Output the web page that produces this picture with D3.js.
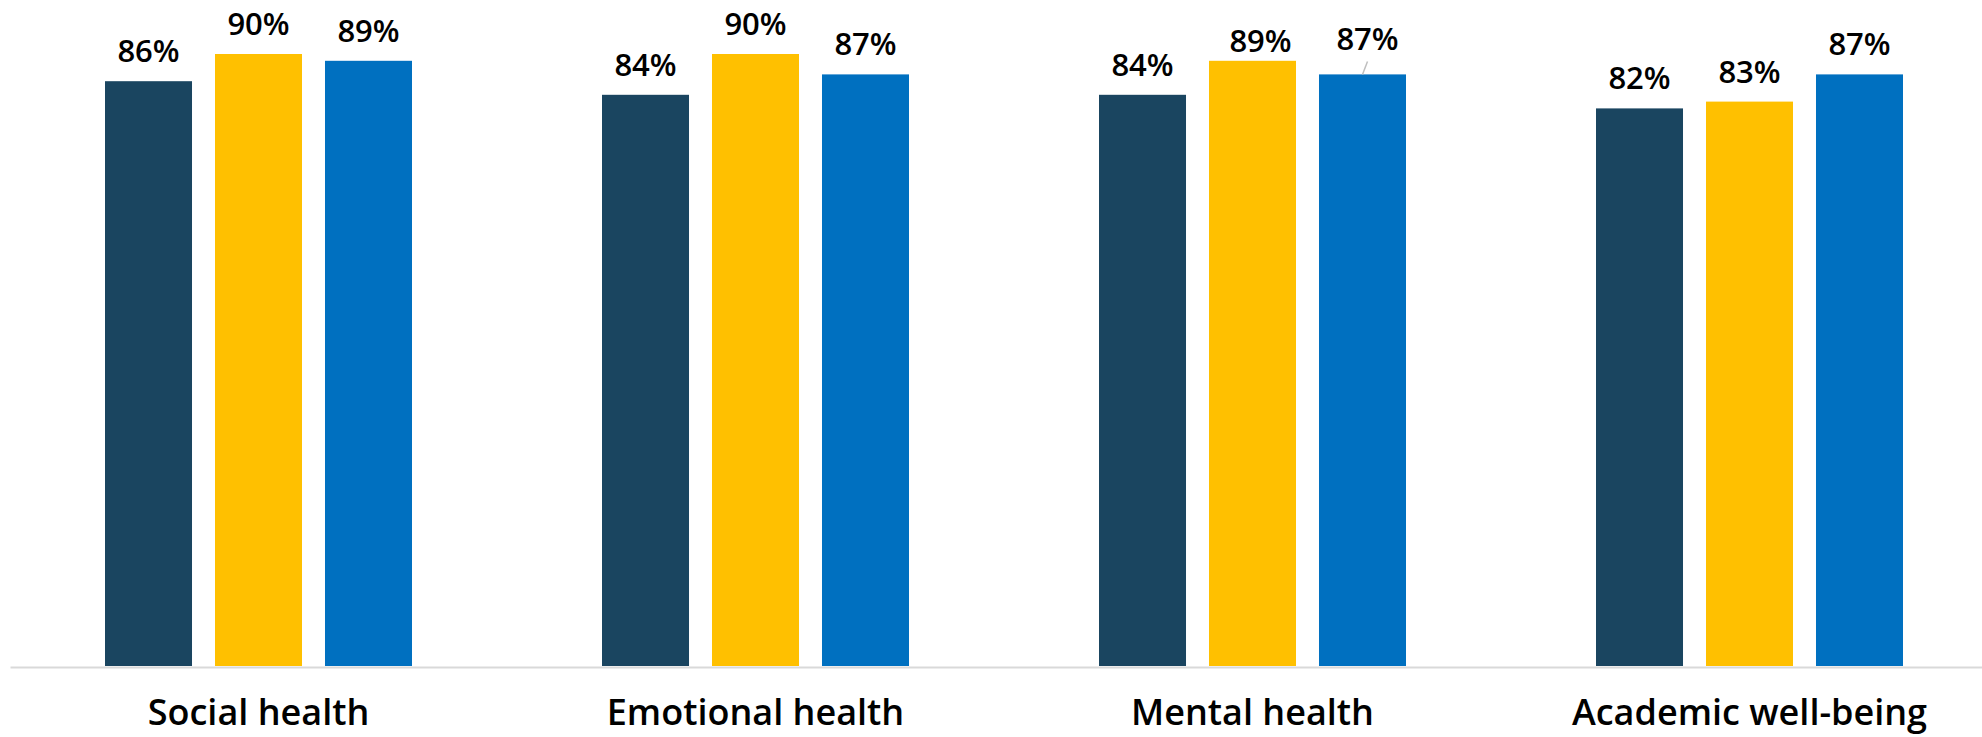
<!DOCTYPE html>
<html>
<head>
<meta charset="utf-8">
<script src="https://cdn.jsdelivr.net/npm/d3@7"></script>
<style>
html,body{margin:0;padding:0;background:#fff;}
svg{display:block;}
</style>
</head>
<body>
<svg id="chart" width="1982" height="737"></svg>
<script>
// ---- data ----
const categories = ["Social health", "Emotional health", "Mental health", "Academic well-being"];
const seriesNames = ["Series 1", "Series 2", "Series 3"];
const series1 = [86, 84, 84, 82];
const series2 = [90, 90, 89, 83];
const series3 = [89, 87, 87, 87];
const seriesColors = ["#1A4560", "#FFC000", "#0070C0"];

// manual label nudges (dx, dy) for a few labels, keyed "category|seriesIndex"
const labelNudge = {"2|1": [8, 10], "2|2": [5, -5]};

const W = 1982, H = 737;
const svg = d3.select("#chart");
const FONT = "'Open Sans', 'Liberation Sans', Arial, sans-serif";

const x0 = d3.scaleBand().domain(categories).range([10, 1998]).paddingInner(0).paddingOuter(0);
const groupW = 307;
const x1 = d3.scaleBand().domain(seriesNames).range([0, groupW]).paddingInner(0.209).paddingOuter(0);
const y = d3.scaleLinear().domain([0, 100]).range([666, -14]);

const allSeries = [series1, series2, series3];
const rows = [];
categories.forEach((c, ci) => {
  allSeries.forEach((s, si) => {
    rows.push({cat: c, ci, si, name: seriesNames[si], v: s[ci]});
  });
});

const gx = c => x0(c) + (x0.bandwidth() - groupW) / 2;

// bars
svg.append("g").selectAll("rect").data(rows).join("rect")
  .attr("x", d => gx(d.cat) + x1(d.name))
  .attr("y", d => y(d.v))
  .attr("width", x1.bandwidth())
  .attr("height", d => y(0) - y(d.v))
  .attr("fill", d => seriesColors[d.si]);

// axis line
const xAxis = d3.axisBottom(x0).tickSize(0).tickFormat("");
const axG = svg.append("g").attr("transform", `translate(0,${y(0)+1})`).call(xAxis);
axG.select(".domain").attr("stroke", "#d9d9d9").attr("stroke-width", 2);

// category labels
svg.append("g").selectAll("text").data(categories).join("text")
  .attr("x", c => x0(c) + x0.bandwidth() / 2)
  .attr("y", 725)
  .attr("text-anchor", "middle")
  .attr("font-family", FONT)
  .attr("font-weight", 600)
  .attr("font-size", 36)
  .attr("fill", "#000")
  .text(c => c);

// value labels
const lbl = svg.append("g");
rows.forEach(d => {
  const cx = gx(d.cat) + x1(d.name) + x1.bandwidth() / 2;
  const n = labelNudge[d.ci + "|" + d.si] || [0, 0];
  const ty = y(d.v) - 19 + n[1];
  if (d.ci === 2 && d.si === 2) {
    lbl.append("line")
      .attr("x1", cx + n[0]).attr("y1", ty + 11)
      .attr("x2", cx).attr("y2", y(d.v))
      .attr("stroke", "#bfbfbf").attr("stroke-width", 1.5);
  }
  lbl.append("text")
    .attr("x", cx + n[0])
    .attr("y", ty)
    .attr("text-anchor", "middle")
    .attr("font-family", FONT)
    .attr("font-weight", 600)
    .attr("font-size", 31)
    .attr("fill", "#000")
    .text(d.v + "%");
});
</script>
</body>
</html>
